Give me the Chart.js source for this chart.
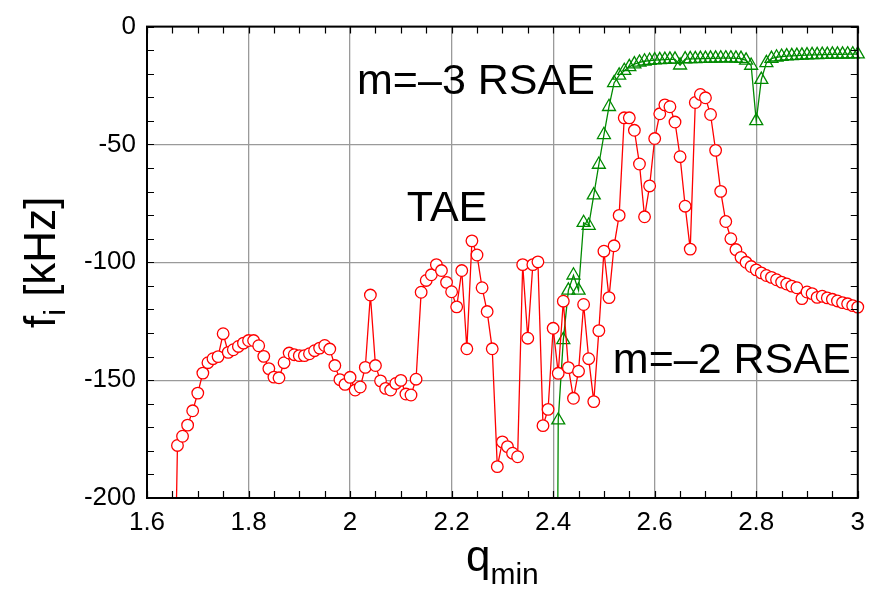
<!DOCTYPE html>
<html>
<head>
<meta charset="utf-8">
<script src="https://cdn.jsdelivr.net/npm/chart.js@4.4.1/dist/chart.umd.min.js"></script>
<style>
  html, body { margin: 0; padding: 0; background: #fff; }
  #wrap { width: 874px; height: 594px; }
</style>
</head>
<body>
<div id="wrap"><canvas id="c" width="874" height="594"></canvas></div>
<script>
// ---- data ----
const qRed = [1.65,1.66,1.67,1.68,1.69,1.70,1.71,1.72,1.73,1.74,1.75,1.76,1.77,1.78,1.79,
  1.80,1.81,1.82,1.83,1.84,1.85,1.86,1.87,1.88,1.89,1.90,1.91,1.92,1.93,1.94,1.95,1.96,1.97,1.98,1.99,
  2.00,2.01,2.02,2.03,2.04,2.05,2.06,2.07,2.08,2.09,2.10,2.11,2.12,2.13,2.14,2.15,2.16,2.17,2.18,2.19,
  2.20,2.21,2.22,2.23,2.24,2.25,2.26,2.27,2.28,2.29,2.30,2.31,2.32,2.33,2.34,2.35,2.36,2.37,2.38,2.39,
  2.40,2.41,2.42,2.43,2.44,2.45,2.46,2.47,2.48,2.49,2.50,2.51,2.52,2.53,2.54,2.55,2.56,2.57,2.58,2.59,
  2.60,2.61,2.62,2.63,2.64,2.65,2.66,2.67,2.68,2.69,2.70,2.71,2.72,2.73,2.74,2.75,2.76,2.77,2.78,2.79,
  2.80,2.81,2.82,2.83,2.84,2.85,2.86,2.87,2.88,2.89,2.90,2.91,2.92,2.93,2.94,2.95,2.96,2.97,2.98,2.99,3.00];
const fRed = [-300,-177.7,-173.8,-169.1,-163,-155.5,-147,-142.6,-140.9,-140,-130.3,-138.2,-137.1,-135.7,-134.3,
  -133.2,-133.2,-135.4,-139.9,-145.1,-148.7,-149,-142.6,-138.5,-139.2,-139.6,-139.6,-138.8,-137.5,-136.4,-135.3,-136.8,-143.8,-149.8,-151.8,
  -148.8,-154.2,-152.9,-144.6,-113.9,-143.8,-150.3,-153.5,-154.2,-151.4,-150.1,-155.9,-156.3,-149.6,-112.7,-107.7,-105.3,-101,-103.5,-108.5,
  -112.5,-118.9,-103.5,-136.7,-90.9,-96.9,-110.8,-120.9,-136.7,-186.7,-176.2,-178.2,-181,-182.5,-101,-132.2,-101,-99.8,-169.3,-162.4,
  -128,-147.1,-116.5,-144.7,-157.7,-146.2,-117.9,-140.9,-159.1,-129,-95.3,-115,-93,-80.1,-38.7,-38.7,-44,-58.3,-80.7,-67.6,
  -47.5,-37,-33.2,-34,-40.5,-55.2,-76.2,-94.4,-32.2,-28.8,-30.2,-37.3,-52.5,-69.9,-82.7,-90,-94.6,-97.9,-100,-101.8,
  -103.2,-104.5,-105.6,-106.4,-107.4,-108.4,-109.2,-110.1,-110.8,-115.4,-112.6,-113.3,-114.9,-114.4,-115.1,-115.7,-116.4,-117.1,-117.6,-118.4,-119];

const qGreen = [2.40,2.41,2.42,2.43,2.44,2.45,2.46,2.47,2.48,2.49,2.50,2.51,2.52,2.53,2.54,2.55,2.56,2.57,2.58,2.59,
  2.60,2.61,2.62,2.63,2.64,2.65,2.66,2.67,2.68,2.69,2.70,2.71,2.72,2.73,2.74,2.75,2.76,2.77,2.78,2.79,
  2.80,2.81,2.82,2.83,2.84,2.85,2.86,2.87,2.88,2.89,2.90,2.91,2.92,2.93,2.94,2.95,2.96,2.97,2.98,2.99,3.00];
const fGreen = [-600,-167,-132.9,-111.9,-105.5,-111.9,-83.2,-84.4,-71.5,-58.5,-45.9,-34,-23.9,-20.7,-18.7,-17.1,-15.9,-15.2,-14.7,-14.4,
  -14.2,-14.1,-14.0,-13.9,-13.9,-16.4,-13.8,-13.7,-13.7,-13.6,-13.6,-13.5,-13.5,-13.4,-13.4,-13.4,-13.5,-13.6,-14.3,-16.5,
  -40,-22.5,-15.4,-13.6,-13.0,-12.7,-12.5,-12.4,-12.3,-12.2,-12.1,-12.0,-12.0,-11.9,-11.9,-11.8,-11.8,-11.8,-11.7,-11.7,-11.7];

const xTickValues = [1.6,1.8,2.0,2.2,2.4,2.6,2.8,3.0];
const xTickLabels = ['1.6','1.8','2','2.2','2.4','2.6','2.8','3'];
const yTickValues = [-200,-150,-100,-50,0];
const yTickLabels = ['-200','-150','-100','-50','0'];

const annotations = [
  { text: 'm=\u20133 RSAE', q: 2.0137, f: -28.6 },
  { text: 'TAE', q: 2.1118, f: -82.4 },
  { text: 'm=\u20132 RSAE', q: 2.5176, f: -147 }
];

const FONT = "'Liberation Sans', Arial, Helvetica, sans-serif";

function pts(xs, ys) { return xs.map((x, i) => ({ x: x, y: ys[i] })); }

const decor = {
  id: 'decor',
  afterDatasetsDraw(chart) {
    const ctx = chart.ctx, a = chart.chartArea;
    const xs = chart.scales.x, ys = chart.scales.y;
    ctx.save();
    // minor ticks (inward on all four sides)
    ctx.strokeStyle = '#000';
    ctx.lineWidth = 1.2;
    ctx.beginPath();
    for (let k = 0; k <= 28; k++) {
      const v = 1.6 + k * 0.05;
      const px = Math.round(xs.getPixelForValue(v)) + 0.5;
      ctx.moveTo(px, a.bottom); ctx.lineTo(px, a.bottom - 7);
      ctx.moveTo(px, a.top); ctx.lineTo(px, a.top + 7);
    }
    for (let k = 0; k <= 20; k++) {
      const v = -200 + k * 10;
      const py = Math.round(ys.getPixelForValue(v)) + 0.5;
      ctx.moveTo(a.left, py); ctx.lineTo(a.left + 7, py);
      ctx.moveTo(a.right, py); ctx.lineTo(a.right - 7, py);
    }
    ctx.stroke();
    // frame
    ctx.lineWidth = 2;
    ctx.strokeRect(a.left, a.top, a.right - a.left, a.bottom - a.top);

    // annotations
    ctx.fillStyle = '#000';
    ctx.font = '43px ' + FONT;
    ctx.textBaseline = 'alphabetic';
    ctx.textAlign = 'left';
    annotations.forEach(t => {
      ctx.fillText(t.text, xs.getPixelForValue(t.q), ys.getPixelForValue(t.f));
    });

    // x title: q_min
    const big = '44px ' + FONT, small = '30px ' + FONT;
    ctx.font = big; const wq = ctx.measureText('q').width;
    ctx.font = small; const wm = ctx.measureText('min').width;
    const cx = (a.left + a.right) / 2;
    let x0 = cx - (wq + wm) / 2;
    ctx.font = big; ctx.fillText('q', x0, 571);
    ctx.font = small; ctx.fillText('min', x0 + wq, 584);

    // y title: f_i [kHz]
    ctx.save();
    const cy = (a.top + a.bottom) / 2;
    ctx.translate(55, cy);
    ctx.rotate(-Math.PI / 2);
    ctx.font = big; const wf = ctx.measureText('f').width;
    const wr = ctx.measureText(' [kHz]').width;
    ctx.font = small; const wi = ctx.measureText('i').width;
    let s = -(wf + wi + wr) / 2;
    ctx.font = big; ctx.fillText('f', s, 0);
    ctx.font = small; ctx.fillText('i', s + wf, 10);
    ctx.font = big; ctx.fillText(' [kHz]', s + wf + wi, 0);
    ctx.restore();
    ctx.restore();
  }
};

const gridColor = '#9a9a9a';

new Chart(document.getElementById('c'), {
  type: 'line',
  data: {
    datasets: [
      {
        label: 'red',
        data: pts(qRed, fRed),
        borderColor: '#ff0000',
        borderWidth: 1.3,
        pointStyle: 'circle',
        pointRadius: 5.8,
        pointBorderWidth: 1.3,
        pointBorderColor: '#ff0000',
        pointBackgroundColor: '#ffffff',
        tension: 0,
        clip: { left: 10, right: 10, top: 10, bottom: 0 }
      },
      {
        label: 'green',
        data: pts(qGreen, fGreen),
        borderColor: '#008a00',
        borderWidth: 1.3,
        pointStyle: 'triangle',
        pointRadius: 7.5,
        pointBorderWidth: 1.3,
        pointBorderColor: '#008a00',
        pointBackgroundColor: 'rgba(0,0,0,0)',
        tension: 0,
        clip: { left: 10, right: 10, top: 10, bottom: 0 }
      }
    ]
  },
  options: {
    responsive: false,
    animation: false,
    events: [],
    layout: { padding: { top: 22, right: 13, left: 0, bottom: 0 } },
    plugins: { legend: { display: false }, tooltip: { enabled: false }, title: { display: false } },
    scales: {
      x: {
        type: 'linear',
        min: 1.6, max: 3.0,
        afterFit(s) { s.height = 96; },
        afterBuildTicks(s) { s.ticks = xTickValues.map(v => ({ value: v })); },
        ticks: {
          autoSkip: false, maxRotation: 0, padding: 9,
          color: '#000',
          font: { family: FONT, size: 26 },
          callback(v, i) { return xTickLabels[i]; }
        },
        grid: { color: gridColor, lineWidth: 1.3, drawTicks: false },
        border: { display: false }
      },
      y: {
        type: 'linear',
        min: -200, max: 0,
        afterFit(s) { s.width = 147; },
        afterBuildTicks(s) { s.ticks = yTickValues.map(v => ({ value: v })); },
        ticks: {
          autoSkip: false, padding: 11,
          color: '#000',
          font: { family: FONT, size: 26 },
          callback(v, i) { return yTickLabels[i]; }
        },
        grid: { color: gridColor, lineWidth: 1.3, drawTicks: false },
        border: { display: false }
      }
    }
  },
  plugins: [decor]
});
</script>
</body>
</html>
